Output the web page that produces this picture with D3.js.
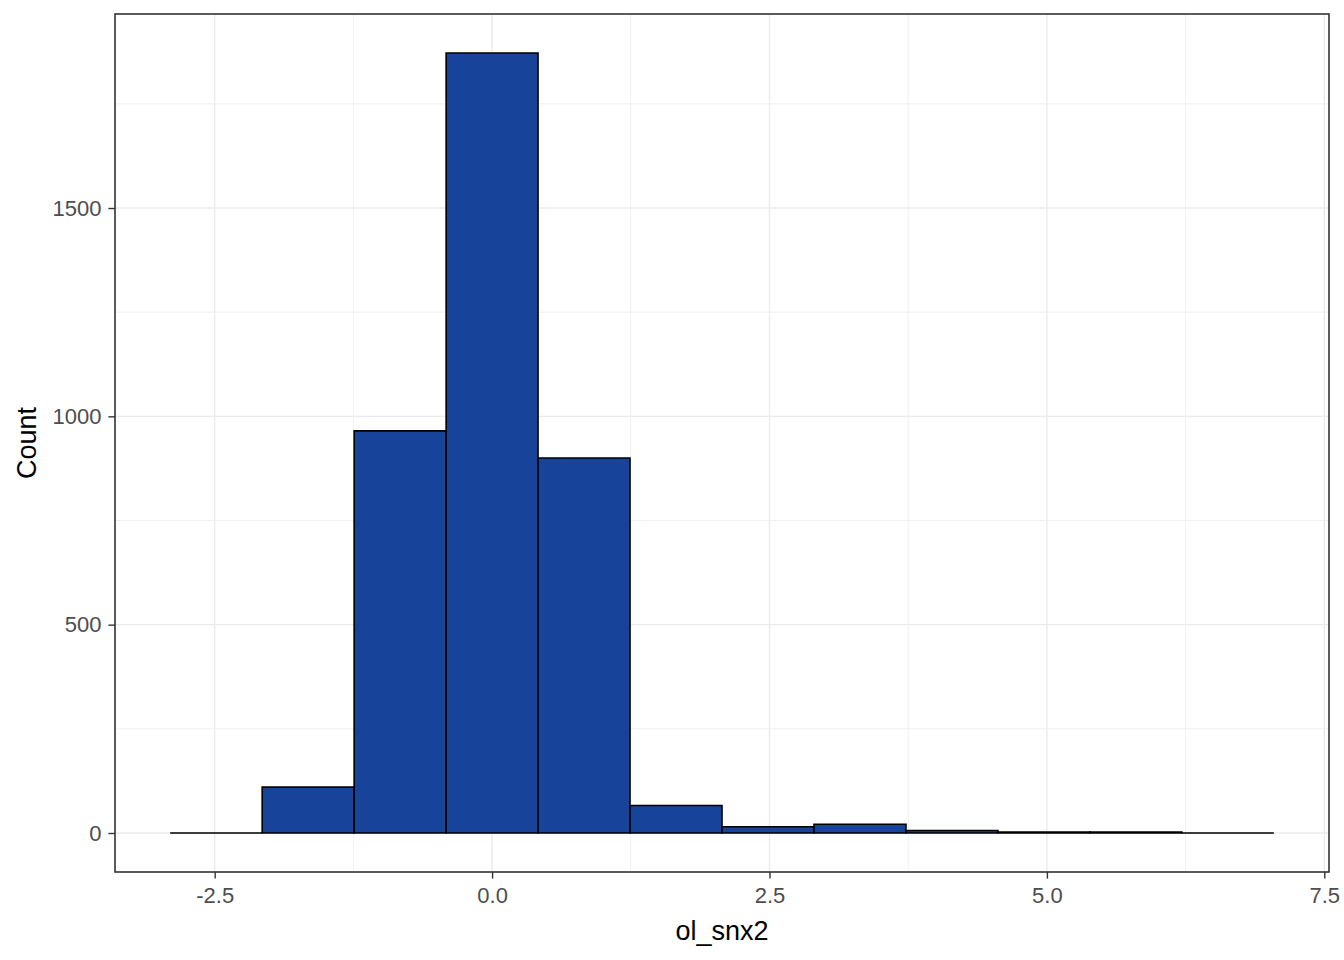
<!DOCTYPE html>
<html>
<head>
<meta charset="utf-8">
<script src="https://cdn.jsdelivr.net/npm/d3@7"></script>
<style>
  html, body { margin: 0; padding: 0; background: #ffffff; }
  svg { display: block; }
  text { font-family: "Liberation Sans", Arial, sans-serif; }
</style>
</head>
<body>
<svg id="chart" width="1344" height="960"></svg>
<script>
// Bin edges (lower bounds and final upper bound) and counts per bin
const binEdges = [-2.901, -2.072, -1.243, -0.414, 0.414, 1.243, 2.072, 2.901, 3.730, 4.559, 5.387, 6.216, 7.045];
const counts   = [0, 110, 965, 1872, 900, 66, 15, 21, 6, 2, 2, 0];
const xTicks = [-2.5, 0.0, 2.5, 5.0, 7.5];
const xMinor = [-1.25, 1.25, 3.75, 6.25];
const yTicks = [0, 500, 1000, 1500];
const yMinor = [250, 750, 1250, 1750];
const xTitle = "ol_snx2";
const yTitle = "Count";

const bins = counts.map((c, i) => ({ x0: binEdges[i], x1: binEdges[i + 1], count: c }));

const panel = { left: 115, top: 14, right: 1329, bottom: 872 };
const svg = d3.select("#chart");

const xLo = d3.min(binEdges), xHi = d3.max(binEdges);
const xPad = (xHi - xLo) * 0.05;
const x = d3.scaleLinear().domain([xLo - xPad, xHi + xPad]).range([panel.left, panel.right]);
const yMax = d3.max(counts);
const yPad = yMax * 0.05;
const y = d3.scaleLinear().domain([-yPad, yMax + yPad]).range([panel.bottom, panel.top]);

// background
svg.append("rect").attr("x", panel.left).attr("y", panel.top)
  .attr("width", panel.right - panel.left).attr("height", panel.bottom - panel.top)
  .attr("fill", "#ffffff");

const grid = svg.append("g");
// minor grid
grid.selectAll(".xm").data(xMinor).enter().append("line")
  .attr("x1", d => x(d)).attr("x2", d => x(d)).attr("y1", panel.top).attr("y2", panel.bottom)
  .attr("stroke", "#EBEBEB").attr("stroke-width", 0.75);
grid.selectAll(".ym").data(yMinor).enter().append("line")
  .attr("y1", d => y(d)).attr("y2", d => y(d)).attr("x1", panel.left).attr("x2", panel.right)
  .attr("stroke", "#EBEBEB").attr("stroke-width", 0.75);
// major grid
grid.selectAll(".xM").data(xTicks).enter().append("line")
  .attr("x1", d => x(d)).attr("x2", d => x(d)).attr("y1", panel.top).attr("y2", panel.bottom)
  .attr("stroke", "#EBEBEB").attr("stroke-width", 1.4);
grid.selectAll(".yM").data(yTicks).enter().append("line")
  .attr("y1", d => y(d)).attr("y2", d => y(d)).attr("x1", panel.left).attr("x2", panel.right)
  .attr("stroke", "#EBEBEB").attr("stroke-width", 1.4);

// bars (drawn as closed paths so zero-height bins still show their outline)
svg.append("g").selectAll("path").data(bins).enter().append("path")
  .attr("d", d => {
    const xa = x(d.x0), xb = x(d.x1), ya = y(0), yb = y(d.count);
    return `M${xa},${ya}L${xa},${yb}L${xb},${yb}L${xb},${ya}Z`;
  })
  .attr("fill", "#18439A")
  .attr("stroke", "#000000")
  .attr("stroke-width", 1.6)
  .attr("stroke-linejoin", "miter");

// panel border
svg.append("rect").attr("x", panel.left).attr("y", panel.top)
  .attr("width", panel.right - panel.left).attr("height", panel.bottom - panel.top)
  .attr("fill", "none").attr("stroke", "#333333").attr("stroke-width", 1.6);

// axes
const fmtX = d => d3.format(".1f")(d).replace("\u2212", "-");
const xAxis = d3.axisBottom(x).tickValues(xTicks).tickFormat(fmtX).tickSize(6.6).tickPadding(9);
const gx = svg.append("g").attr("transform", `translate(0,${panel.bottom})`).call(xAxis);
gx.select(".domain").remove();
gx.selectAll(".tick line").attr("stroke", "#333333").attr("stroke-width", 1.4);
gx.selectAll(".tick text").attr("fill", "#4D4D4D").attr("font-size", 22)
  .attr("font-family", "'Liberation Sans', Arial, sans-serif").attr("dy", "0.71em");

const yAxis = d3.axisLeft(y).tickValues(yTicks).tickFormat(d3.format("d")).tickSize(6.6).tickPadding(7);
const gy = svg.append("g").attr("transform", `translate(${panel.left},0)`).call(yAxis);
gy.select(".domain").remove();
gy.selectAll(".tick line").attr("stroke", "#333333").attr("stroke-width", 1.4);
gy.selectAll(".tick text").attr("fill", "#4D4D4D").attr("font-size", 22)
  .attr("font-family", "'Liberation Sans', Arial, sans-serif");

// titles
svg.append("text").attr("x", (panel.left + panel.right) / 2).attr("y", 940)
  .attr("text-anchor", "middle").attr("font-size", 27).attr("fill", "#000000").text(xTitle);
svg.append("text").attr("transform", `translate(36,${(panel.top + panel.bottom) / 2}) rotate(-90)`)
  .attr("text-anchor", "middle").attr("font-size", 27).attr("fill", "#000000").text(yTitle);
</script>
</body>
</html>
